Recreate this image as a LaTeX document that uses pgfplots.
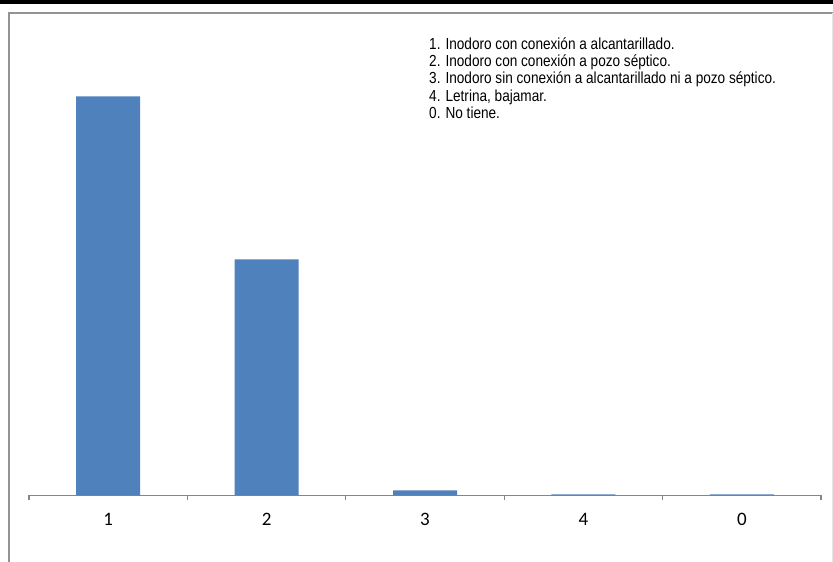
\documentclass[border=0pt]{standalone}
\usepackage{pgfplots}
\pgfplotsset{compat=1.18}
\usepackage{fontspec}
\setmainfont{Carlito}
\newfontfamily\narrow[FakeStretch=0.85]{Liberation Sans}
\definecolor{barblue}{HTML}{4F81BD}
\definecolor{axgray}{HTML}{868686}
\begin{document}
\begin{tikzpicture}[x=1bp,y=1bp]
\path[use as bounding box] (0,0) rectangle (833,562);
\fill[white] (0,0) rectangle (833,562);
\fill[black] (0,558) rectangle (833,562);
\draw[line width=1.6bp, color=gray!85] (9,0) -- (9,549) -- (833,549);
\draw[line width=0.8bp, color=gray!20] (832,549) -- (832,0);
\begin{axis}[
  at={(29bp,66.7bp)}, anchor=south west,
  scale only axis, width=792bp, height=400bp,
  xmin=-0.5, xmax=4.5, ymin=0, ymax=400,
  axis y line=none, axis x line*=bottom,
  axis line style={axgray, line width=1.2bp, -},
  xtick={0,1,2,3,4}, xticklabels={1,2,3,4,0},
  major tick length=0pt,
  minor xtick={-0.5,0.5,1.5,2.5,3.5,4.5},
  minor tick length=5bp, tick align=outside,
  minor tick style={axgray, line width=1.2bp},
  xticklabel style={font=\fontsize{19bp}{22bp}\selectfont, yshift=-14bp},
  ybar, bar width=64bp, bar shift=0pt,
  clip=false,
]
\addplot[fill=barblue, draw=none] coordinates {(0,399) (1,236) (2,5) (3,1) (4,1)};
\end{axis}
\begin{scope}[every node/.style={anchor=base west, inner sep=0pt, font=\narrow\fontsize{16bp}{17bp}\selectfont}]
\node at (429,562-49.5) {1. Inodoro con conexión a alcantarillado.};
\node at (429,562-66.5) {2. Inodoro con conexión a pozo séptico.};
\node at (429,562-84) {3. Inodoro sin conexión a alcantarillado ni a pozo séptico.};
\node at (429,562-101.5) {4. Letrina, bajamar.};
\node at (429,562-118.5) {0. No tiene.};
\end{scope}
\end{tikzpicture}
\end{document}
